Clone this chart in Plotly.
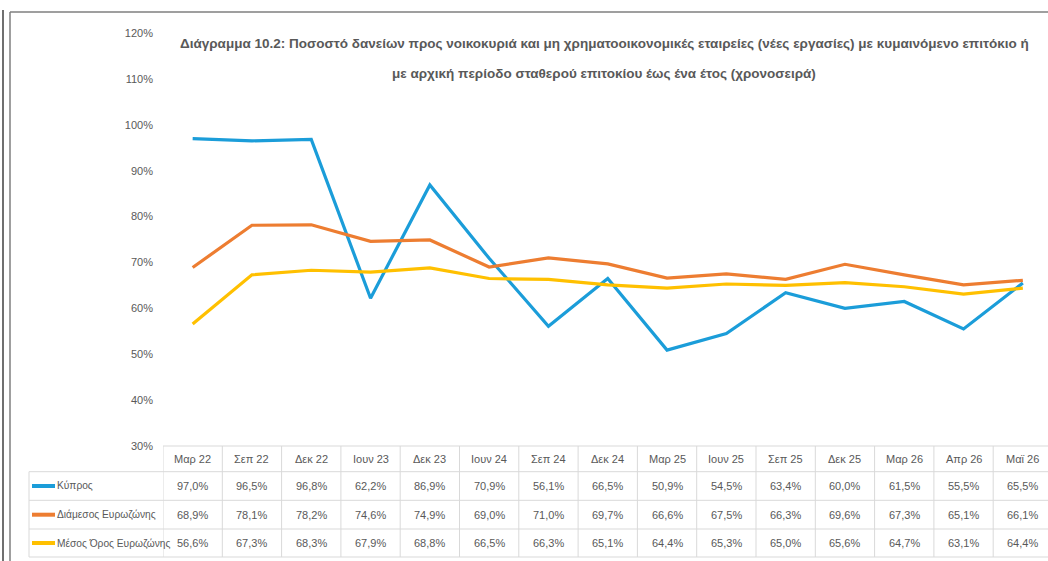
import plotly.graph_objects as go

categories = ["Μαρ 22", "Σεπ 22", "Δεκ 22", "Ιουν 23", "Δεκ 23", "Ιουν 24", "Σεπ 24", "Δεκ 24",
              "Μαρ 25", "Ιουν 25", "Σεπ 25", "Δεκ 25", "Μαρ 26", "Απρ 26", "Μαϊ 26"]
cyprus = [97.0, 96.5, 96.8, 62.2, 86.9, 70.9, 56.1, 66.5, 50.9, 54.5, 63.4, 60.0, 61.5, 55.5, 65.5]
ez_median = [68.9, 78.1, 78.2, 74.6, 74.9, 69.0, 71.0, 69.7, 66.6, 67.5, 66.3, 69.6, 67.3, 65.1, 66.1]
ez_mean = [56.6, 67.3, 68.3, 67.9, 68.8, 66.5, 66.3, 65.1, 64.4, 65.3, 65.0, 65.6, 64.7, 63.1, 64.4]
series_names = ["Κύπρος", "Διάμεσος Ευρωζώνης", "Μέσος Όρος Ευρωζώνης"]
series_values = [cyprus, ez_median, ez_mean]
series_colors = ["#1B9DD9", "#ED7D31", "#FFC000"]
y_ticks = [30, 40, 50, 60, 70, 80, 90, 100, 110, 120]
y_ticktext = [f"{v}%" for v in y_ticks]
title_line1 = ("Διάγραμμα 10.2: Ποσοστό δανείων προς νοικοκυριά και μη χρηματοοικονομικές εταιρείες "
               "(νέες εργασίες) με κυμαινόμενο επιτόκιο ή")
title_line2 = "με αρχική περίοδο σταθερού επιτοκίου έως ένα έτος (χρονοσειρά)"

W, H = 1048, 561
ML, MR, MT, MB = 163, 0, 33, 115
PW, PH = W - ML - MR, H - MT - MB
COLW = 59.3
FONT = "Liberation Sans, Arial, sans-serif"
TXT = "#595959"
GRID = "#D9D9D9"


def px_x(p):
    return (p - ML) / PW


def px_y(p):
    return (H - MB - p) / PH


fig = go.Figure()
for name, vals, col in zip(series_names, series_values, series_colors):
    fig.add_trace(go.Scatter(x=categories, y=vals, mode="lines", name=name,
                             line=dict(color=col, width=3.2), showlegend=False,
                             cliponaxis=False))

shapes = []
annotations = []

# table horizontal lines
row_lines = [471.7, 500.3, 529.0, 557.0]
shapes.append(dict(type="line", xref="paper", yref="paper", x0=0, x1=1,
                   y0=px_y(446), y1=px_y(446), line=dict(color=GRID, width=1)))
for yl in row_lines:
    shapes.append(dict(type="line", xref="paper", yref="paper", x0=px_x(29), x1=1,
                       y0=px_y(yl), y1=px_y(yl), line=dict(color=GRID, width=1)))
# vertical lines
shapes.append(dict(type="line", xref="paper", yref="paper", x0=px_x(29), x1=px_x(29),
                   y0=px_y(471.7), y1=px_y(557), line=dict(color=GRID, width=1)))
for i in range(len(categories)):
    shapes.append(dict(type="line", xref="x", yref="paper", x0=i - 0.5, x1=i - 0.5,
                       y0=px_y(446), y1=px_y(557), line=dict(color=GRID, width=1)))

TS = 11
for c in categories:
    annotations.append(dict(x=c, xref="x", y=px_y(459), yref="paper", text=c,
                            xanchor="center", yanchor="middle",
                            showarrow=False, font=dict(family=FONT, size=TS, color=TXT)))
row_centers = [486, 514.7, 543]
for name, vals, col, yc in zip(series_names, series_values, series_colors, row_centers):
    shapes.append(dict(type="line", xref="paper", yref="paper", x0=px_x(32), x1=px_x(55),
                       y0=px_y(yc), y1=px_y(yc), line=dict(color=col, width=4)))
    annotations.append(dict(x=px_x(55), xref="paper", y=px_y(yc), yref="paper", text=name,
                            xanchor="left", yanchor="middle", showarrow=False,
                            font=dict(family=FONT, size=10.2, color=TXT)))
    for c, v in zip(categories, vals):
        annotations.append(dict(x=c, xref="x", y=px_y(yc), yref="paper",
                                text=f"{v:.1f}".replace(".", ",") + "%", showarrow=False,
                                xanchor="center", yanchor="middle",
                                font=dict(family=FONT, size=TS, color=TXT)))

# title (two lines with wide spacing)
for txt, yc in [(title_line1, 43), (title_line2, 73)]:
    annotations.append(dict(x=px_x(604), xref="paper", y=px_y(yc), yref="paper", text=txt,
                            showarrow=False, align="center", xanchor="center", yanchor="middle",
                            font=dict(family=FONT, size=13.5, color=TXT, weight="bold")))

# frame lines
frame = "#7F7F7F"
shapes.append(dict(type="line", xref="paper", yref="paper", x0=px_x(3), x1=px_x(3),
                   y0=px_y(10), y1=px_y(561), line=dict(color="#404040", width=1.5)))
shapes.append(dict(type="line", xref="paper", yref="paper", x0=px_x(10), x1=px_x(10),
                   y0=px_y(12), y1=px_y(561), line=dict(color=frame, width=1.5)))
shapes.append(dict(type="line", xref="paper", yref="paper", x0=px_x(10), x1=1,
                   y0=px_y(12), y1=px_y(12), line=dict(color=frame, width=1.5)))

n_visible = (W - ML - MR) / COLW
fig.update_layout(
    width=W, height=H,
    margin=dict(l=ML, r=MR, t=MT, b=MB),
    paper_bgcolor="white", plot_bgcolor="white",
    font=dict(family=FONT, color=TXT),
    shapes=shapes, annotations=annotations,
    xaxis=dict(type="category", categoryorder="array", categoryarray=categories,
               range=[-0.5, -0.5 + n_visible], showticklabels=False, showgrid=False,
               zeroline=False, showline=False, ticks=""),
    yaxis=dict(range=[30, 120], tickmode="array", tickvals=y_ticks, ticktext=y_ticktext,
               showgrid=False, zeroline=False, showline=False, ticks="", ticklabelstandoff=9,
               tickfont=dict(family=FONT, size=11, color=TXT)),
)
fig.write_html("out.html", config={"displayModeBar": False},
               post_script="document.body.style.margin='0';")
